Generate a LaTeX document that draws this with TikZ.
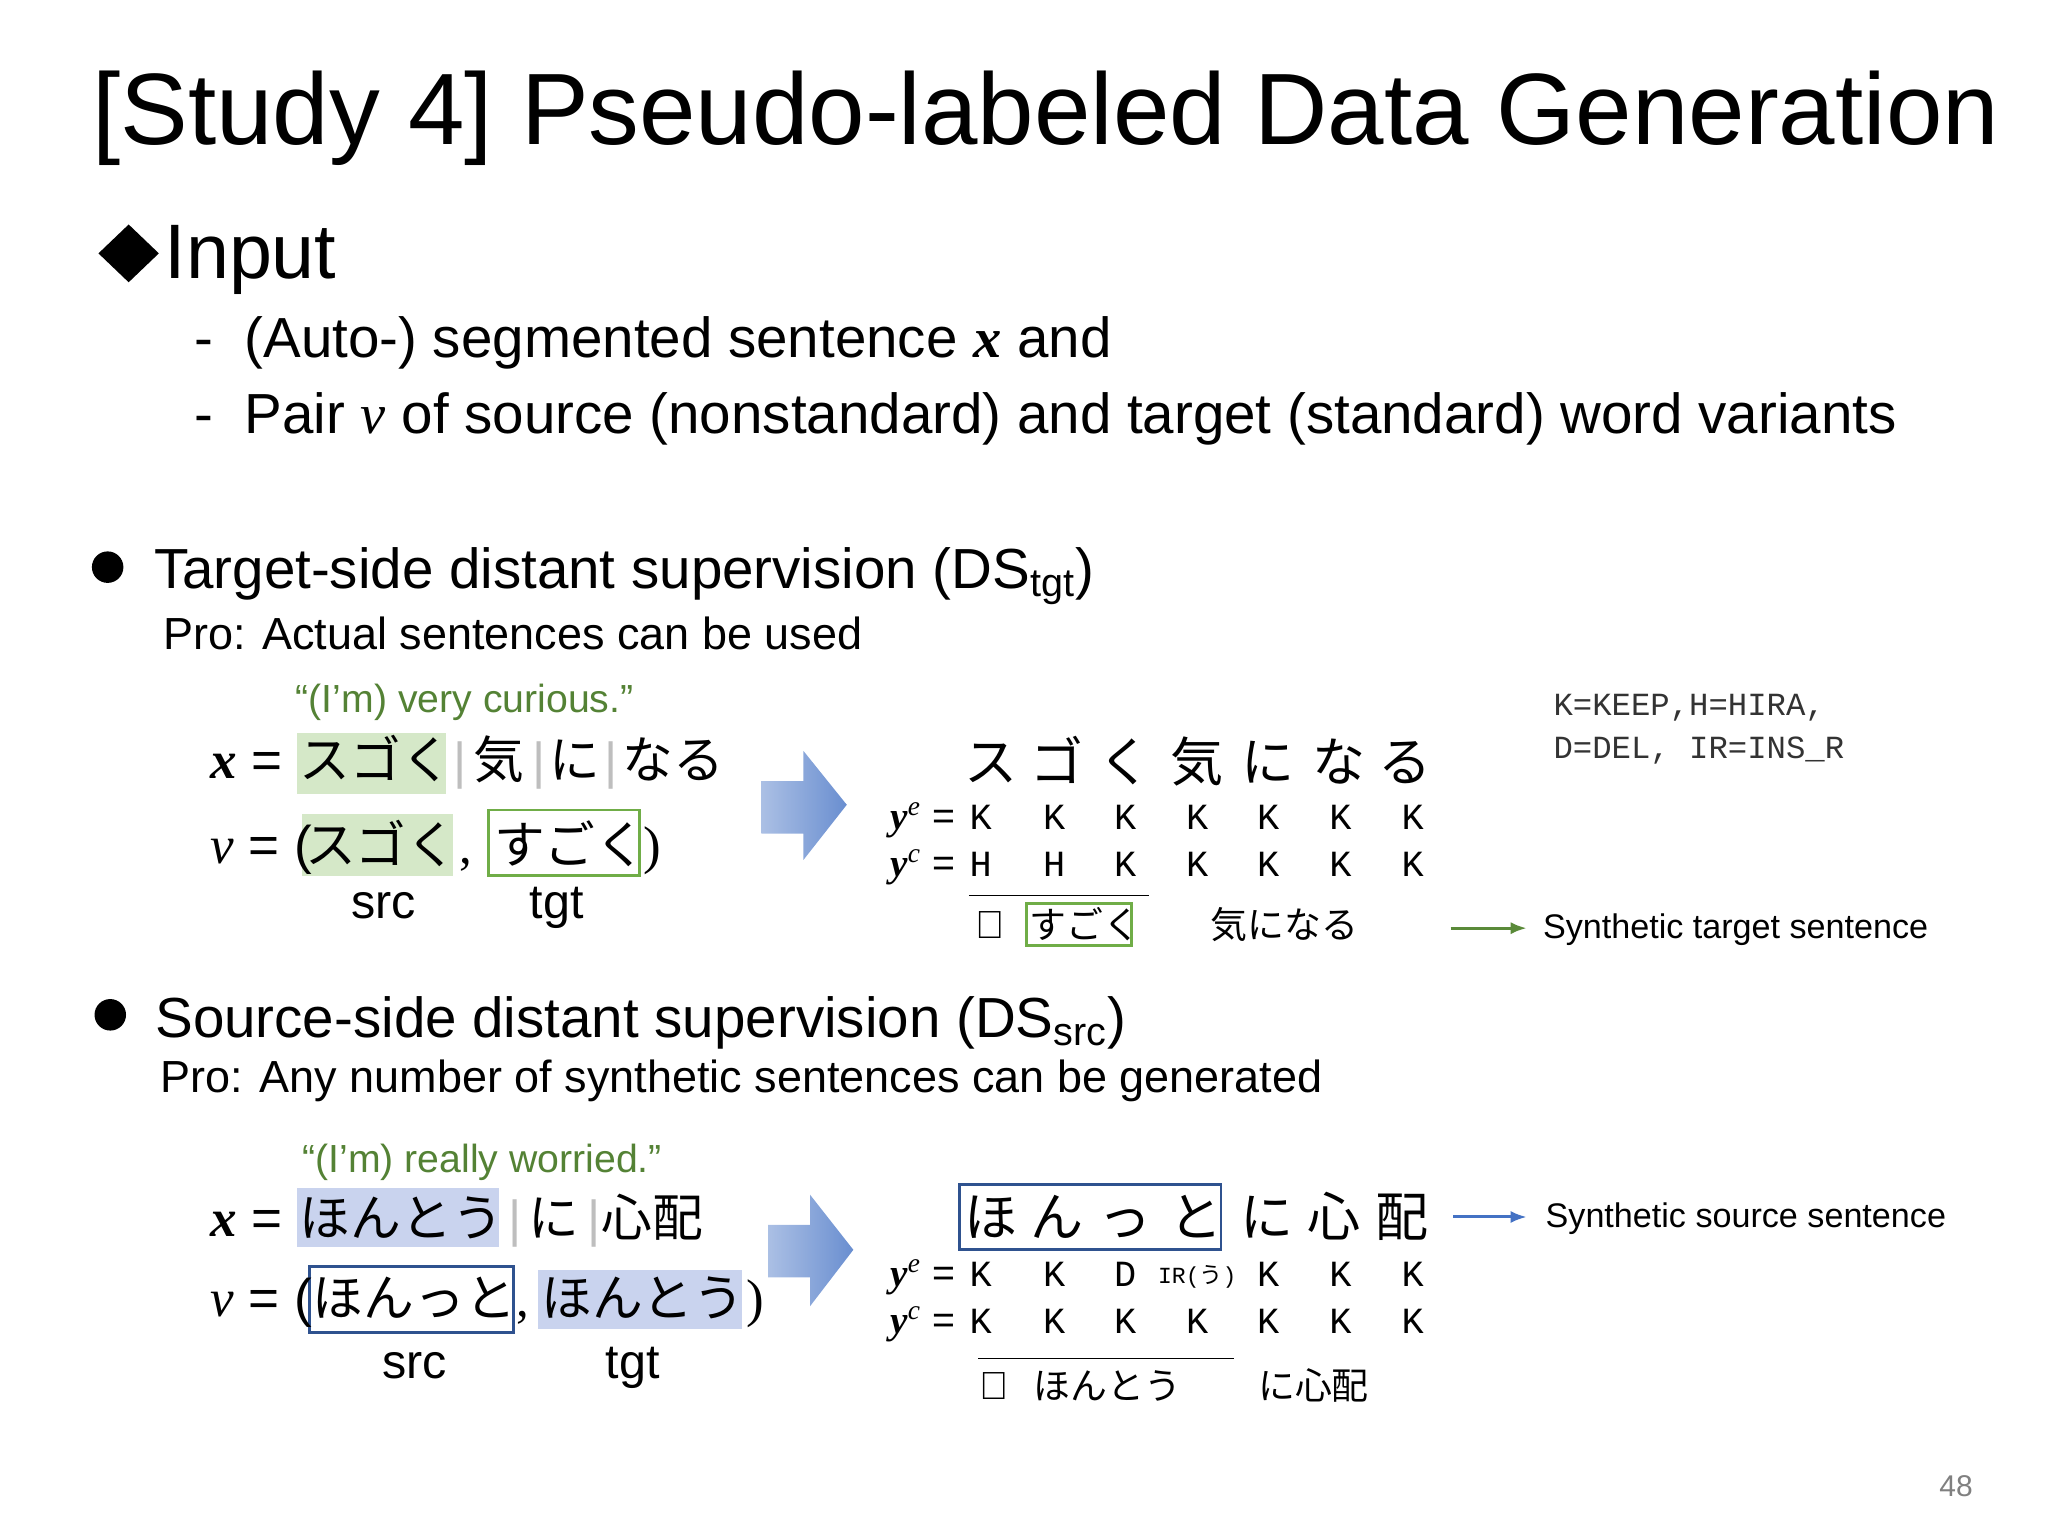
\RequirePackage{fix-cm}
\documentclass[tikz,border=0pt]{standalone}
\usepackage{fontspec}
\setmainfont{Liberation Sans}
\newfontfamily\jp{Noto Sans CJK JP}
\newfontfamily\mono{Liberation Mono}
\newfontfamily\srf{Liberation Serif}
\usetikzlibrary{arrows.meta}
\definecolor{gtxt}{RGB}{84,130,53}
\definecolor{gfill}{RGB}{213,232,200}
\definecolor{gline}{RGB}{112,173,71}
\definecolor{bfill}{RGB}{201,211,238}
\definecolor{bline}{RGB}{47,82,143}
\definecolor{barr}{RGB}{68,114,196}
\definecolor{sep}{RGB}{190,190,190}
\newcommand\fs[1]{\fontsize{#1}{#1}\selectfont}
\newcommand\bx{{\srf\bfseries\itshape x}}
\newcommand\vv{{\srf\itshape v}}
\newcommand\yy[1]{{\srf\bfseries\itshape y}\textsuperscript{\srf\itshape #1}}
\begin{document}
\begin{tikzpicture}[x=0.02cm,y=-0.02cm,
  t/.style={anchor=base west,inner sep=0pt},
  tc/.style={anchor=base,inner sep=0pt},
  gbox/.style={draw=gline,line width=1.2pt},
  bbox/.style={draw=bline,line width=1.2pt},
  blockarrow/.style={left color=barr!45,right color=barr!80,draw=none}]
\useasboundingbox (0,0) rectangle (1560,1170);
% title
\node[t] (title) at (70,110) {\fs{44}[Study 4] Pseudo-labeled Data Generation};
\fill (98,171) -- (121,193) -- (98,215) -- (75,193) -- cycle;
\node[t] (input) at (125,212) {\fs{33.5}Input};
\node[t] (d1) at (148,272) {\fs{24.5}-};
\node[t] (i1) at (186,272) {\fs{24.5}(Auto-) segmented sentence \bx\ and};
\node[t] (d2) at (148,330) {\fs{24.5}-};
\node[t] (i2) at (186,330) {\fs{24.5}Pair \vv\ of source (nonstandard) and target (standard) word variants};
% bullet 1
\fill (82,432) circle (12);
\node[t] (b1) at (117,448) {\fs{24.5}Target-side distant supervision (DS\textsubscript{tgt})};
\node[t] (p1) at (124,495) {\fs{19.5}Pro: Actual sentences can be used};
\node[t,text=gtxt] (q1) at (225,543) {\fs{17}“(I’m) very curious.”};
% x line 1
\fill[gfill] (226,558) rectangle (340,605);
\node[t] (x1) at (160,593) {\fs{23}\bx\ =};
\node[t] (x1a) at (228,593) {\jp\fs{22}スゴく};
\node[t,text=sep] at (345,593) {\fs{22}|};
\node[t] (x1b) at (360,593) {\jp\fs{22}気};
\node[t,text=sep] at (405,593) {\fs{22}|};
\node[t] (x1c) at (418,593) {\jp\fs{22}に};
\node[t,text=sep] at (460,593) {\fs{22}|};
\node[t] (x1d) at (474,593) {\jp\fs{22}なる};
% v line 1
\fill[gfill] (230,620) rectangle (345,667);
\draw[gbox] (372,617) rectangle (487,667);
\node[t] (v1) at (160,658) {\fs{23}\vv\ = (};
\node[t] (v1a) at (232,658) {\jp\fs{22}スゴく};
\node[t] at (350,658) {\fs{22}{\srf,}};
\node[t] (v1b) at (376,658) {\jp\fs{22}すごく};
\node[t] at (490,658) {\fs{23}{\srf)}};
\node[tc] (s1) at (292,700) {\fs{21}src};
\node[tc] (g1) at (424,700) {\fs{21}tgt};
% block arrow 1
\shade[blockarrow] (580,595) -- (612,595) -- (612,572) -- (645,613) -- (612,655) -- (612,635) -- (580,635) -- cycle;
\foreach \c/\xx in {ス/755,ゴ/805,く/857,気/912,に/966,な/1020,る/1070}
  \node[tc] at (\xx,595) {\jp\fs{23}\c};
\node[t] (ye1) at (678,632) {\fs{17}\yy{e} =};
\node[t] (yc1) at (678,668) {\fs{17}\yy{c} =};
\foreach \k/\xx in {K/747,K/803,K/857,K/912,K/966,K/1021,K/1076}
  \node[tc] at (\xx,632) {\mono\fs{16}\k};
\foreach \k/\xx in {H/747,H/803,K/857,K/912,K/966,K/1021,K/1076}
  \node[tc] at (\xx,668) {\mono\fs{16}\k};
\draw[line width=0.6pt] (738,682) -- (875,682);
\node[t] (r1) at (743,715) {\fs{17}⇒};
\draw[gbox] (782,688) rectangle (862,720);
\node[t] (r1a) at (784,715) {\jp\fs{16}すごく};
\node[t] (r1b) at (922,715) {\jp\fs{16}気になる};
\coordinate (ga) at (1105,707);
\coordinate (gb) at (1163,707);
\draw[gline!80!black,line width=1.3pt,-{Latex[length=7pt]}] (ga) -- (gb);
\node[t] (st) at (1175,715) {\fs{14.8}Synthetic target sentence};
\node[t,text=black!80] (leg1) at (1183,545) {\mono\fs{14}K=KEEP,H=HIRA,};
\node[t,text=black!80] (leg2) at (1183,578) {\mono\fs{14}D=DEL, IR=INS\_R};
% bullet 2
\fill (84,773) circle (12);
\node[t] (b2) at (118,790) {\fs{24.5}Source-side distant supervision (DS\textsubscript{src})};
\node[t] (p2) at (122,832) {\fs{19.5}Pro: Any number of synthetic sentences can be generated};
\node[t,text=gtxt] (q2) at (230,893) {\fs{17}“(I’m) really worried.”};
% x line 2
\fill[bfill] (226,905) rectangle (380,950);
\node[t] (x2) at (160,942) {\fs{23}\bx\ =};
\node[t] (x2a) at (228,942) {\jp\fs{22}ほんとう};
\node[t,text=sep] at (387,942) {\fs{22}|};
\node[t] (x2b) at (402,942) {\jp\fs{22}に};
\node[t,text=sep] at (447,942) {\fs{22}|};
\node[t] (x2c) at (458,942) {\jp\fs{22}心配};
% v line 2
\draw[bbox] (236,965) rectangle (391,1015);
\fill[bfill] (410,967) rectangle (565,1012);
\node[t] (v2) at (160,1003) {\fs{23}\vv\ = (};
\node[t] (v2a) at (238,1003) {\jp\fs{22}ほんっと};
\node[t] at (393,1003) {\fs{22}{\srf,}};
\node[t] (v2b) at (412,1003) {\jp\fs{22}ほんとう};
\node[t] at (568,1003) {\fs{23}{\srf)}};
\node[tc] (s2) at (316,1050) {\fs{21}src};
\node[tc] (g2) at (482,1050) {\fs{21}tgt};
\shade[blockarrow] (585,933) -- (617,933) -- (617,910) -- (650,952) -- (617,995) -- (617,973) -- (585,973) -- cycle;
\draw[bbox] (731,902) rectangle (930,952);
\foreach \c/\xx in {ほ/755,ん/805,っ/857,と/911,に/965,心/1016,配/1068}
  \node[tc] at (\xx,942) {\jp\fs{23}\c};
\node[t] (ye2) at (678,980) {\fs{17}\yy{e} =};
\node[t] (yc2) at (678,1016) {\fs{17}\yy{c} =};
\foreach \k/\xx in {K/747,K/803,D/857,K/966,K/1021,K/1076}
  \node[tc] at (\xx,980) {\mono\fs{16}\k};
\node[tc] at (912,978) {\mono\fs{10}IR(\jp う\mono)};
\foreach \k/\xx in {K/747,K/803,K/857,K/912,K/966,K/1021,K/1076}
  \node[tc] at (\xx,1016) {\mono\fs{16}\k};
\draw[line width=0.6pt] (745,1035) -- (940,1035);
\node[t] (r2) at (746,1066) {\fs{17}⇒};
\node[t] (r2a) at (787,1066) {\jp\fs{16}ほんとう};
\node[t] (r2b) at (958,1066) {\jp\fs{16}に心配};
\coordinate (ba) at (1107,927);
\coordinate (bb) at (1163,927);
\draw[barr,line width=1.3pt,-{Latex[length=7pt]}] (ba) -- (bb);
\node[t] (ss) at (1177,935) {\fs{14.8}Synthetic source sentence};
\node[tc,text=black!50] (pg) at (1490,1140) {\fs{13}48};
\end{tikzpicture}
\end{document}
